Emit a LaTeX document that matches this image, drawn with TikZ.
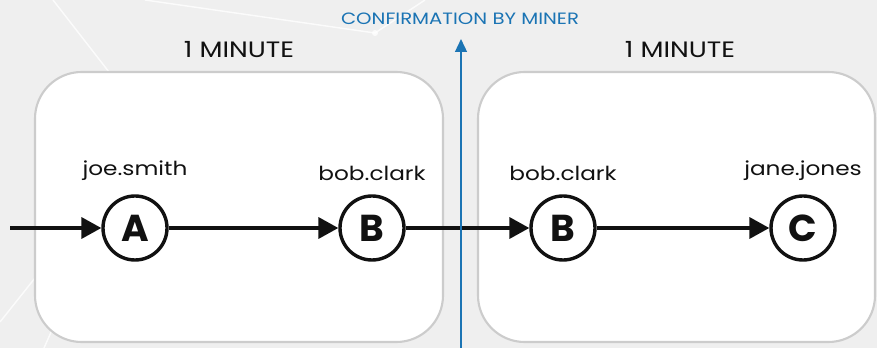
\documentclass[tikz,border=0pt]{standalone}
\usepackage{fontspec}
\setmainfont{Poppins}[FakeStretch=1.2]
\newfontfamily\letterfont{Poppins}[BoldFont=*-Bold]
\usetikzlibrary{arrows.meta, positioning}
\definecolor{bggray}{HTML}{EFEFEF}
\definecolor{boxgray}{HTML}{CCCCCC}
\definecolor{minerblue}{HTML}{1B74B4}
\definecolor{ink}{HTML}{111111}

\begin{document}
\begin{tikzpicture}
        [
            x=0.03cm, y=-0.03cm,
            block/.style={draw=boxgray, fill=white, line width=1.8pt,
                          rounded corners=1.4cm, minimum height=8.1cm},
            user/.style={circle, draw=ink, fill=white, line width=2.9pt,
                         minimum size=1.92cm, inner sep=0pt, text=ink,
                         font=\letterfont\fontsize{32}{32}\selectfont\bfseries},
            handle/.style={text=ink, font=\fontsize{16.5}{16.5}\selectfont},
            minutes/.style={text=ink, font=\fontsize{19}{19}\selectfont},
            flow/.style={draw=ink, line width=2.8pt,
                         -{Triangle[length=17pt, width=18pt]}},
            confirm/.style={draw=minerblue, line width=1.6pt,
                            -{Triangle[length=11pt, width=10pt]}},
            streak/.style={draw=white, line width=1.2pt, opacity=0.8}
        ]
        % background
        \fill [bggray] (0,0) rectangle (877,348);
        \useasboundingbox (0,0) rectangle (877,348);
        \draw [streak] (53,0) -- (109,72);
        \draw [streak] (145,0) -- (375,33) -- (425,0);
        \fill [white, opacity=0.8] (375,33) circle (3);
        \draw [streak] (0,322) -- (35,278);
        \draw [streak] (44,348) -- (52,330);

        % one box per minute
        \node (box1) [block, minimum width=12.24cm] at (239,207) {};
        \node (box2) [block, minimum width=11.91cm] at (676.5,207) {};
        \node (min1) [minutes] at (239,50) {1 MINUTE};
        \node (min2) [minutes] at (680,50) {1 MINUTE};

        % transactions
        \coordinate (start) at (10,228);
        \node (a)  [user] at (135,228) {A};
        \node (b1) [user] at (372,228) {B};
        \node (b2) [user] at (563,228) {B};
        \node (c)  [user] at (803,228) {C};
        \node (n-a)  [handle, above=8pt of a]  {joe.smith};
        \node (n-b1) [handle, above=8pt of b1] {bob.clark};
        \node (n-b2) [handle, above=8pt of b2] {bob.clark};
        \node (n-c)  [handle, above=8pt of c]  {jane.jones};
        \draw [flow] (start) -- (a);
        \draw [flow] (a) -- (b1);
        \draw [flow] (b1) -- (b2);
        \draw [flow] (b2) -- (c);

        % confirmation
        \node (miner) [text=minerblue, font=\fontsize{14}{14}\selectfont] at (460,19)
            {CONFIRMATION BY MINER};
        \coordinate (foot) at (461,348);
        \coordinate (tip) at (461,39);
        \draw [confirm] (foot) -- (tip);
    \end{tikzpicture}
\end{document}
